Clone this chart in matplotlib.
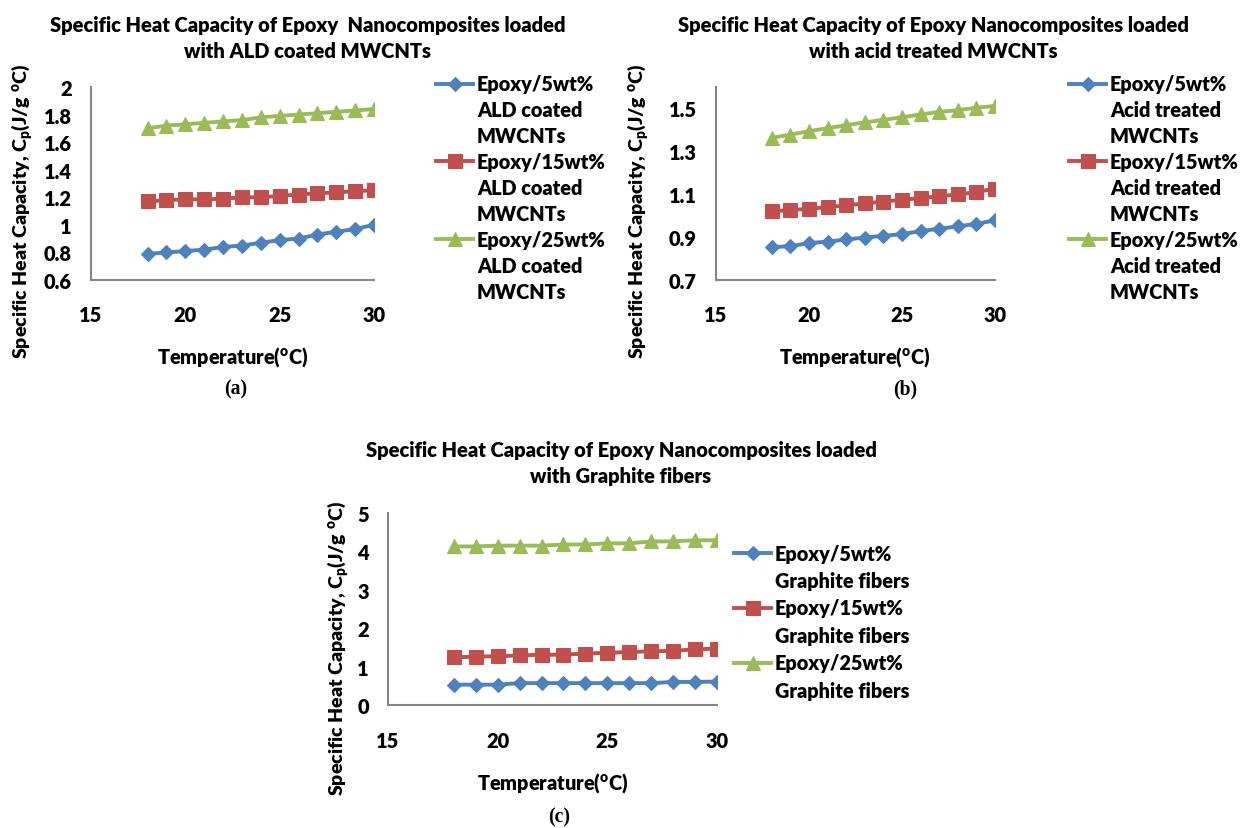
import matplotlib
matplotlib.use("Agg")
import matplotlib.pyplot as plt
from matplotlib.lines import Line2D

WEIGHT = 'heavy'
plt.rcParams['font.family'] = ['Lato', 'DejaVu Sans']
plt.rcParams['font.weight'] = WEIGHT
plt.rcParams['mathtext.fontset'] = 'custom'
plt.rcParams['mathtext.rm'] = 'Lato:' + WEIGHT
plt.rcParams['mathtext.it'] = 'Lato:' + WEIGHT
plt.rcParams['mathtext.bf'] = 'Lato:' + WEIGHT

temperature = [18, 19, 20, 21, 22, 23, 24, 25, 26, 27, 28, 29, 30]

# (a) ALD coated MWCNTs
ald_5 = [0.79, 0.80, 0.81, 0.82, 0.84, 0.85, 0.87, 0.89, 0.90, 0.93, 0.95, 0.97, 1.00]
ald_15 = [1.17, 1.18, 1.185, 1.185, 1.19, 1.20, 1.20, 1.21, 1.22, 1.23, 1.235, 1.245, 1.25]
ald_25 = [1.70, 1.72, 1.73, 1.74, 1.75, 1.76, 1.78, 1.79, 1.80, 1.81, 1.82, 1.83, 1.84]

# (b) Acid treated MWCNTs
acid_5 = [0.853, 0.858, 0.872, 0.879, 0.889, 0.898, 0.906, 0.914, 0.928, 0.939, 0.950, 0.962, 0.978]
acid_15 = [1.021, 1.026, 1.032, 1.040, 1.048, 1.057, 1.066, 1.074, 1.082, 1.090, 1.099, 1.110, 1.126]
acid_25 = [1.363, 1.378, 1.394, 1.408, 1.422, 1.435, 1.447, 1.459, 1.472, 1.484, 1.492, 1.503, 1.512]

# (c) Graphite fibers
gf_5 = [0.53, 0.53, 0.53, 0.57, 0.57, 0.57, 0.57, 0.57, 0.57, 0.57, 0.60, 0.60, 0.61]
gf_15 = [1.24, 1.26, 1.27, 1.29, 1.31, 1.31, 1.34, 1.36, 1.38, 1.40, 1.41, 1.45, 1.47]
gf_25 = [4.13, 4.13, 4.15, 4.15, 4.15, 4.18, 4.18, 4.21, 4.21, 4.26, 4.26, 4.29, 4.29]

x_ticks = [15, 20, 25, 30]
yticks_a = [0.6, 0.8, 1.0, 1.2, 1.4, 1.6, 1.8, 2.0]
ytick_labels_a = ['0.6', '0.8', '1', '1.2', '1.4', '1.6', '1.8', '2']
yticks_b = [0.7, 0.9, 1.1, 1.3, 1.5]
ytick_labels_b = ['0.7', '0.9', '1.1', '1.3', '1.5']
yticks_c = [0, 1, 2, 3, 4, 5]
ytick_labels_c = ['0', '1', '2', '3', '4', '5']

labels_a = [["Epoxy/5wt%", "ALD coated", "MWCNTs"],
            ["Epoxy/15wt%", "ALD coated", "MWCNTs"],
            ["Epoxy/25wt%", "ALD coated", "MWCNTs"]]
labels_b = [["Epoxy/5wt%", "Acid treated", "MWCNTs"],
            ["Epoxy/15wt%", "Acid treated", "MWCNTs"],
            ["Epoxy/25wt%", "Acid treated", "MWCNTs"]]
labels_c = [["Epoxy/5wt%", "Graphite fibers"],
            ["Epoxy/15wt%", "Graphite fibers"],
            ["Epoxy/25wt%", "Graphite fibers"]]

titles = ["Specific Heat Capacity of Epoxy  Nanocomposites loaded\nwith ALD coated MWCNTs",
          "Specific Heat Capacity of Epoxy Nanocomposites loaded\nwith acid treated MWCNTs",
          "Specific Heat Capacity of Epoxy Nanocomposites loaded\nwith Graphite fibers"]
ylabel_text = r"Specific Heat Capacity, C$_{p}$(J/g $^{o}$C)"
xlabel_text = r"Temperature($^{o}$C)"

colors = ['#4F81BD', '#C0504D', '#9BBB59']
markers = ['D', 's', '^']
msizes = [7.0, 9.5, 10.5]
LW = 2.8

W, H = 1240, 829
fig = plt.figure(figsize=(W / 100, H / 100), dpi=100)
R = fig.canvas.get_renderer()


def fx(px):
    return px / W


def fy(py):
    return 1 - py / H


def fit_size(s, target, dim='w', size0=12, **kw):
    t = fig.text(0, 0, s, fontsize=size0, **kw)
    for _ in range(4):
        e = t.get_window_extent(R)
        cur = e.width if dim == 'w' else e.height
        t.set_fontsize(t.get_fontsize() * target / cur)
    fs = t.get_fontsize()
    t.remove()
    return fs


# font sizes fitted to measured reference text extents (pixels)
FS_TITLE = fit_size("Specific Heat Capacity of Epoxy Nanocomposites loaded", 512)
FS_TICK = fit_size("1.8", 28)
FS_LEG = fit_size("Epoxy/5wt%", 117)
FS_XLAB = fit_size(xlabel_text, 152)
FS_YLAB = fit_size(ylabel_text, 295, dim='h', rotation=90)
FS_SUB = fit_size("(a)", 23, family='Liberation Serif', weight='bold')
tmp = fig.text(0, 0, "15", fontsize=FS_TICK)
TICK_H = tmp.get_window_extent(R).height
tmp.remove()

panels = [
    dict(rect=(91, 88, 374, 281), series=[ald_5, ald_15, ald_25], labels=labels_a,
         ylim=(0.6, 2.0), yticks=yticks_a, yl=ytick_labels_a,
         title_y=(25, 52), title_x=308, ylab_xy=(22, 211), xlab_xy=(233, 357),
         sub_xy=(236, 389), sub='(a)', leg_xy=(436, 85), pitch=25.9),
    dict(rect=(716, 88, 995, 281), series=[acid_5, acid_15, acid_25], labels=labels_b,
         ylim=(0.7, 1.6), yticks=yticks_b, yl=ytick_labels_b,
         title_y=(25, 52), title_x=933, ylab_xy=(638, 211), xlab_xy=(855, 357),
         sub_xy=(905, 389), sub='(b)', leg_xy=(1069, 85), pitch=25.9),
    dict(rect=(388, 514, 717, 706), series=[gf_5, gf_15, gf_25], labels=labels_c,
         ylim=(0, 5), yticks=yticks_c, yl=ytick_labels_c,
         title_y=(450, 477), title_x=621, ylab_xy=(338, 648), xlab_xy=(553, 783),
         sub_xy=(559, 817), sub='(c)', leg_xy=(734, 554), pitch=27.5),
]

for p, title in zip(panels, titles):
    l, t, r, b = p['rect']
    ax = fig.add_axes([fx(l), fy(b), fx(r - l), (b - t) / H])
    for s, c, m, ms in zip(p['series'], colors, markers, msizes):
        ax.plot(temperature, s, color=c, marker=m, markersize=ms, linewidth=LW,
                markeredgecolor=c, markeredgewidth=0.8)
    ax.set_xlim(15, 30)
    ax.set_ylim(*p['ylim'])
    ax.set_xticks(x_ticks)
    ax.set_xticklabels([str(v) for v in x_ticks])
    ax.set_yticks(p['yticks'])
    ax.set_yticklabels(p['yl'])
    for side in ['top', 'right']:
        ax.spines[side].set_visible(False)
    for side in ['left', 'bottom']:
        ax.spines[side].set_color('#868686')
        ax.spines[side].set_linewidth(1.5)
    ax.tick_params(axis='x', length=0, pad=(35 - TICK_H / 2) * 0.72, labelsize=FS_TICK)
    ax.tick_params(axis='y', length=0, pad=19 * 0.72, labelsize=FS_TICK)
    ax.patch.set_alpha(0)

    # legend: first line of each entry carries the handle
    handles, labs = [], []
    for lines, c, m, ms in zip(p['labels'], colors, markers, msizes):
        handles.append(Line2D([], [], color=c, marker=m, markersize=ms, linewidth=LW,
                              markeredgecolor=c, markeredgewidth=0.8))
        labs.append(lines[0])
        for extra in lines[1:]:
            handles.append(Line2D([], [], linestyle='none', marker='none'))
            labs.append(extra)
    fs_px = FS_LEG * 100 / 72
    lx, ly = p['leg_xy']
    ls = 0.5
    dy = 0.0
    leg = None
    for it in range(4):
        if leg is not None:
            leg.remove()
        leg = fig.legend(handles, labs, loc='upper left',
                         bbox_to_anchor=(fx(lx), fy(ly - 12 + dy)),
                         frameon=False, borderpad=0, borderaxespad=0,
                         handlelength=37 / fs_px, handletextpad=4 / fs_px, labelspacing=ls,
                         prop=dict(family='Lato', weight=WEIGHT, size=FS_LEG))
        fig.canvas.draw()
        ext = [tx.get_window_extent(R) for tx in leg.get_texts()]
        cy = [H - (e.y0 + e.y1) / 2 for e in ext]
        pitch = (cy[-1] - cy[0]) / (len(cy) - 1)
        ls += (p['pitch'] - pitch) / fs_px
        dy += ly - cy[0]

    fig.text(fx(p['ylab_xy'][0]), fy(p['ylab_xy'][1]), ylabel_text, rotation=90,
             ha='center', va='center', fontsize=FS_YLAB)
    fig.text(fx(p['xlab_xy'][0]), fy(p['xlab_xy'][1]), xlabel_text,
             ha='center', va='center', fontsize=FS_XLAB)
    fig.text(fx(p['sub_xy'][0]), fy(p['sub_xy'][1]), p['sub'], ha='center', va='center',
             family='Liberation Serif', weight='bold', fontsize=FS_SUB)

    # two-line title: fit line spacing to the measured line pitch
    y1, y2 = p['title_y']
    lsp = 1.3
    ttl = fig.text(fx(p['title_x']), fy((y1 + y2) / 2), title, ha='center', va='center',
                   fontsize=FS_TITLE, linespacing=lsp)
    one = fig.text(0, 0, "Specific", fontsize=FS_TITLE)
    h1 = one.get_window_extent(R).height
    one.remove()
    for _ in range(3):
        h2 = ttl.get_window_extent(R).height
        cur_pitch = h2 - h1
        lsp *= (y2 - y1) / cur_pitch
        ttl.set_linespacing(lsp)

fig.savefig('out.png', dpi=100)
